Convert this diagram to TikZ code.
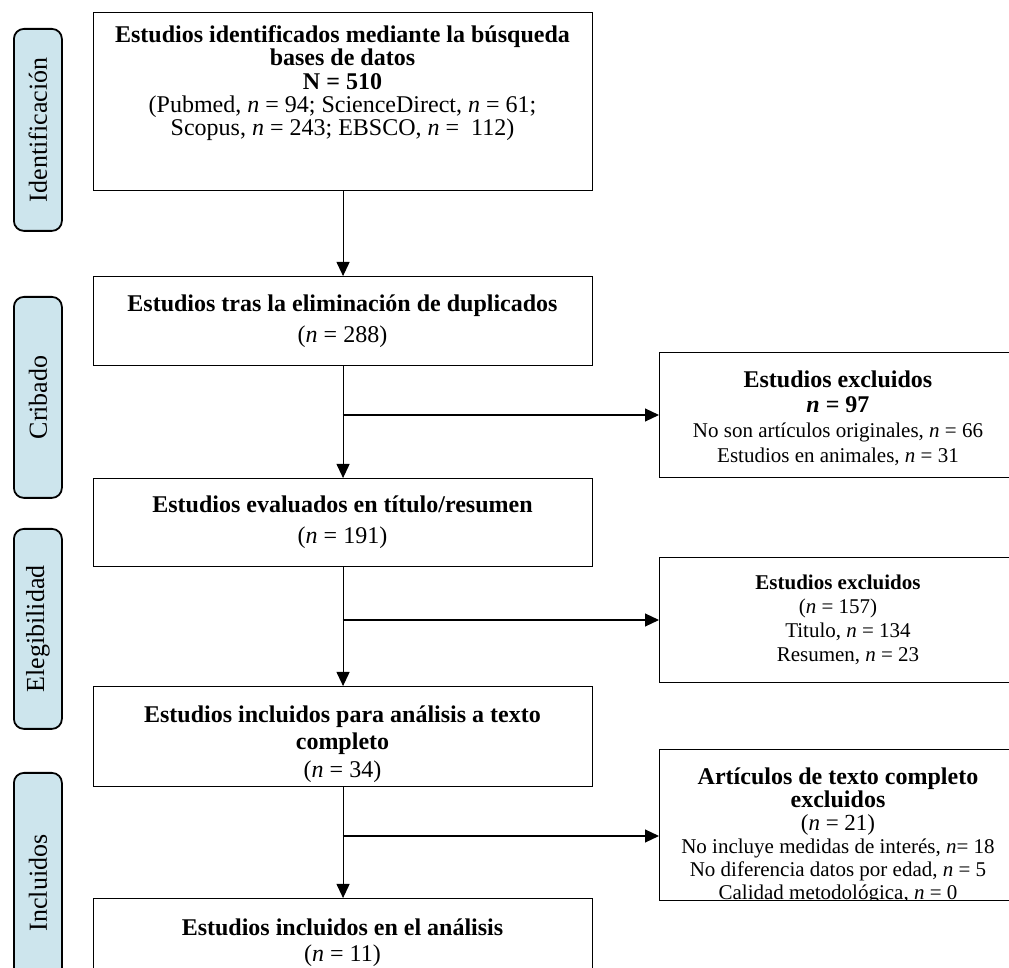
\documentclass[tikz,border=0pt]{standalone}
\usepackage{fontspec}
\setmainfont{Liberation Serif}
\usetikzlibrary{arrows.meta}
\definecolor{sidefill}{RGB}{205,229,237}
\tikzset{
  mainbox/.style={draw=black, line width=0.55pt, minimum width=249.5pt, anchor=north west, inner sep=0pt},
  rbox/.style={draw=black, line width=0.55pt, minimum width=178pt, anchor=north west, inner sep=0pt},
  sidebox/.style={draw=black, line width=0.9pt, fill=sidefill, rounded corners=5pt, minimum width=24pt, anchor=north west, inner sep=0pt},
  sidetext/.style={rotate=90, inner sep=0pt, font=\fontsize{13}{15}\selectfont},
  boxtext/.style={anchor=north, align=center, inner sep=0pt},
  arr/.style={line width=0.55pt, -{Triangle[length=7pt,width=6.5pt]}}
}
\begin{document}
\begin{tikzpicture}[x=0.5pt,y=-0.5pt]
\useasboundingbox (0,0) rectangle (1009,968);

% side labels
\node[sidebox, minimum height=101pt] (s1) at (13,28) {};
\node[sidetext] (s1t) at (s1.center) {Identificación};
\node[sidebox, minimum height=100.5pt] (s2) at (13,296) {};
\node[sidetext] (s2t) at (s2.center) {Cribado};
\node[sidebox, minimum height=100pt] (s3) at (13,528) {};
\node[sidetext] (s3t) at (s3.center) {Elegibilidad};
\node[sidebox, minimum height=110pt] (s4) at (13,772) {};
\node[sidetext] (s4t) at (s4.center) {Incluidos};

% main boxes
\node[mainbox, minimum height=89pt] (b1) at (93,12) {};
\node[boxtext, font=\fontsize{12}{11.7}\selectfont] (b1t) at (342.5,25)
 {\textbf{Estudios identificados mediante la búsqueda}\\
  \textbf{bases de datos}\\
  \textbf{N = 510}\\
  (Pubmed, \textit{n} = 94; ScienceDirect, \textit{n} = 61;\\
  Scopus, \textit{n} = 243; EBSCO, \textit{n} =~~112)};

\node[mainbox, minimum height=44.5pt] (b2) at (93,276) {};
\node[boxtext, font=\fontsize{12}{15.5}\selectfont] (b2t) at (342.5,294)
 {\textbf{Estudios tras la eliminación de duplicados}\\(\textit{n} = 288)};

\node[mainbox, minimum height=44pt] (b3) at (93,478) {};
\node[boxtext, font=\fontsize{12}{15.5}\selectfont] (b3t) at (342.5,495)
 {\textbf{Estudios evaluados en título/resumen}\\(\textit{n} = 191)};

\node[mainbox, minimum height=50pt] (b4) at (93,686) {};
\node[boxtext, font=\fontsize{12}{13.75}\selectfont] (b4t) at (342.5,705)
 {\textbf{Estudios incluidos para análisis a texto}\\\textbf{completo}\\(\textit{n} = 34)};

\node[mainbox, minimum height=52pt] (b5) at (93,898) {};
\node[boxtext, font=\fontsize{12}{13}\selectfont] (b5t) at (342.5,918)
 {\textbf{Estudios incluidos en el análisis}\\(\textit{n} = 11)};

% right boxes
\node[rbox, minimum height=62.5pt] (r1) at (659,352) {};
\node[boxtext, font=\fontsize{10.5}{12.5}\selectfont] (r1t) at (838,370)
 {{\fontsize{12}{12.5}\selectfont\textbf{Estudios excluidos}}\\
  {\fontsize{12}{12.5}\selectfont\textbf{\textit{n} = 97}}\\
  No son artículos originales, \textit{n} = 66\\
  Estudios en animales, \textit{n} = 31};

\node[rbox, minimum height=62.5pt] (r2) at (659,557) {};
\node[boxtext, font=\fontsize{10.5}{12}\selectfont] (r2t) at (838,575)
 {\textbf{Estudios excluidos}\\
  (\textit{n} = 157)\\
  \hspace*{10pt}Titulo, \textit{n} = 134\\
  \hspace*{10pt}Resumen, \textit{n} = 23};

\node[rbox, minimum height=75.5pt] (r3) at (659,749) {};
\begin{scope}
\clip (659,749) rectangle (1015,900);
\node[boxtext, font=\fontsize{10.5}{11.5}\selectfont] (r3t) at (838,767)
 {{\fontsize{12}{12}\selectfont\textbf{Artículos de texto completo}}\\
  {\fontsize{12}{12.3}\selectfont\textbf{excluidos}}\\
  {\fontsize{11.5}{12}\selectfont(\textit{n} = 21)}\\
  No incluye medidas de interés, \textit{n}= 18\\
  No diferencia datos por edad, \textit{n} = 5\\
  Calidad metodológica, \textit{n} = 0};
\end{scope}

% connectors
\draw[arr] (b1.south) -- (b2.north);
\draw[arr] (b2.south) -- (b3.north);
\draw[arr] (b3.south) -- (b4.north);
\draw[arr] (b4.south) -- (b5.north);
\coordinate (j1) at (342.5,415);
\coordinate (j2) at (342.5,620);
\coordinate (j3) at (342.5,836);
\draw[arr] (j1) -- (j1 -| r1.west);
\draw[arr] (j2) -- (j2 -| r2.west);
\draw[arr] (j3) -- (j3 -| r3.west);
\end{tikzpicture}
\end{document}
